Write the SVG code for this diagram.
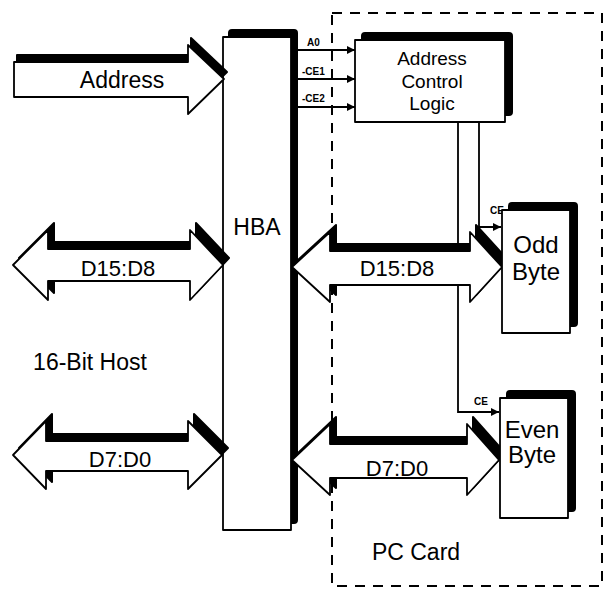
<svg xmlns="http://www.w3.org/2000/svg" width="608" height="589" viewBox="0 0 608 589">
<style>
.bg{fill:#fff}
.sh{fill:#000;stroke:#000;stroke-width:2;stroke-linejoin:round}
.bx{fill:#fff;stroke:#000;stroke-width:1.8;stroke-linejoin:round}
.ln{fill:none;stroke:#000;stroke-width:1.8}
.t{font-family:"Liberation Sans",Arial,sans-serif;fill:#000;text-anchor:middle}
.s{font-family:"Liberation Sans",Arial,sans-serif;font-weight:bold;font-size:10px;fill:#000}
.dash{fill:none;stroke:#000;stroke-width:2;stroke-dasharray:10 8}
</style>
<defs>
<marker id="ah" viewBox="0 0 10 10" refX="10" refY="5" markerWidth="10" markerHeight="8" markerUnits="userSpaceOnUse" orient="auto">
<path d="M0,0 L10,5 L0,10 z" fill="#000"/>
</marker>
</defs>
<rect class="bg" width="608" height="589"/>

<g id="pc-card-boundary">
<rect class="dash" x="332" y="13" width="270" height="573"/>
<text class="t" x="416" y="560" font-size="23">PC Card</text>
</g>

<text class="t" x="90" y="370" font-size="23" id="host-label">16-Bit Host</text>

<g id="connectors">
<line class="ln" x1="298" y1="50" x2="355" y2="50" marker-end="url(#ah)"/>
<line class="ln" x1="298" y1="79" x2="355" y2="79" marker-end="url(#ah)"/>
<line class="ln" x1="298" y1="107" x2="355" y2="107" marker-end="url(#ah)"/>
<text class="s" x="307" y="46">A0</text>
<text class="s" x="302" y="75">-CE1</text>
<text class="s" x="302" y="102">-CE2</text>
<polyline class="ln" points="479,122 479,227 501,227" marker-end="url(#ah)"/>
<polyline class="ln" points="458,122 458,412 499,412" marker-end="url(#ah)"/>
<text class="s" x="490" y="214">CE</text>
<text class="s" x="474" y="405">CE</text>
</g>

<g id="hba">
<rect class="sh" x="229" y="30" width="68" height="493" rx="3"/>
<rect class="bx" x="223" y="37" width="68" height="493"/>
<text class="t" x="257" y="235" font-size="23">HBA</text>
</g>

<g id="address-arrow">
<polygon class="sh" transform="translate(3,-7)" points="14,62 188,62 188,45 224,79 188,114 188,97 14,97"/>
<polygon class="bx" points="14,62 188,62 188,45 224,79 188,114 188,97 14,97"/>
<text class="t" x="122" y="88" font-size="23">Address</text>
</g>

<g id="host-d15-d8">
<polygon class="sh" transform="translate(6,-7)" points="13,265 48,230 48,249 190,249 190,230 223,265 190,300 190,281 48,281 48,300"/>
<polygon class="bx" points="13,265 48,230 48,249 190,249 190,230 223,265 190,300 190,281 48,281 48,300"/>
<text class="t" x="118" y="276" font-size="22">D15:D8</text>
</g>

<g id="host-d7-d0">
<polygon class="sh" transform="translate(6,-7)" points="13,455 46,421 46,441 188,441 188,421 222,455 188,489 188,471 46,471 46,489"/>
<polygon class="bx" points="13,455 46,421 46,441 188,441 188,421 222,455 188,489 188,471 46,471 46,489"/>
<text class="t" x="120" y="467" font-size="22">D7:D0</text>
</g>

<g id="card-d15-d8">
<polygon class="sh" transform="translate(6,-7)" points="292,267 330,232 330,251 470,251 470,232 502,267 470,302 470,285 330,285 330,302"/>
<polygon class="bx" points="292,267 330,232 330,251 470,251 470,232 502,267 470,302 470,285 330,285 330,302"/>
<text class="t" x="397" y="276" font-size="22">D15:D8</text>
</g>

<g id="card-d7-d0">
<polygon class="sh" transform="translate(6,-7)" points="292,460 330,424 330,444 467,444 467,424 499,460 467,495 467,478 330,478 330,495"/>
<polygon class="bx" points="292,460 330,424 330,444 467,444 467,424 499,460 467,495 467,478 330,478 330,495"/>
<text class="t" x="397" y="476" font-size="22">D7:D0</text>
</g>

<g id="address-control-logic">
<rect class="sh" x="362" y="33" width="150" height="82" rx="3"/>
<rect class="bx" x="355" y="40" width="150" height="82"/>
<text class="t" x="432" y="65" font-size="19">Address</text>
<text class="t" x="432" y="88" font-size="19">Control</text>
<text class="t" x="432" y="110" font-size="19">Logic</text>
</g>

<g id="odd-byte">
<rect class="sh" x="509" y="203" width="68" height="123" rx="3"/>
<rect class="bx" x="502" y="210" width="68" height="123"/>
<text class="t" x="536" y="253" font-size="24">Odd</text>
<text class="t" x="536" y="280" font-size="24">Byte</text>
</g>

<g id="even-byte">
<rect class="sh" x="507" y="391" width="68" height="120" rx="3"/>
<rect class="bx" x="500" y="398" width="68" height="120"/>
<text class="t" x="532" y="438" font-size="24">Even</text>
<text class="t" x="532" y="463" font-size="24">Byte</text>
</g>
</svg>
